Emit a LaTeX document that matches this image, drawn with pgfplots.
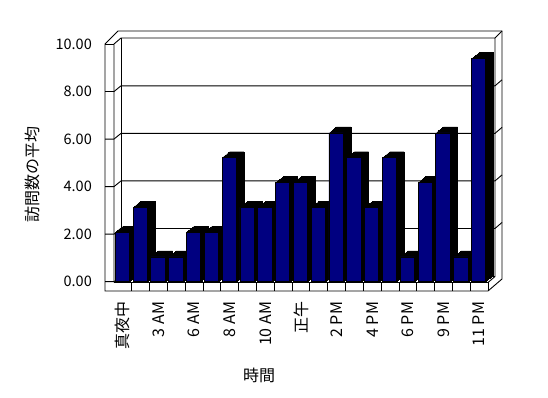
\documentclass[border=0pt]{standalone}
\usepackage{fontspec}
\setmainfont{Noto Sans CJK JP}
\usepackage{pgfplots}
\pgfplotsset{compat=1.18}
\usepackage{pgfplotstable}
\definecolor{barnavy}{RGB}{0,0,128}
\pgfplotstableread{
x y
0 2
1 3
2 1
3 1
4 2
5 2
6 5
7 3
8 3
9 4
10 4
11 3
12 6
13 5
14 3
15 5
16 1
17 4
18 6
19 1
20 9
}\visits
\newcommand{\lblfont}{\fontsize{16bp}{18bp}\selectfont}
\newcommand{\numfont}{\fontsize{14.5bp}{17bp}\selectfont}
\begin{document}
\begin{tikzpicture}
\useasboundingbox (0,0) rectangle (548bp,398bp);
% walls and floor (image pixel coordinates)
\begin{scope}[x=1bp,y=-1bp,yshift=398bp,line width=0.9bp,line join=miter]
  \draw (105,291)--(105,44)--(118,31)--(502,31)--(502,279)--(488,291)--cycle;
  \draw (114,282.5)--(114,44)--(121,38)--(495,38)--(495,276.5)--(488,282.5);
  \draw (105,44)--(114,44);
  \draw (495,38)--(502,31);
  \draw (121,38)--(121,276)--(495,276);
  \draw (114,282.5)--(488,282.5)--(488,291);
  \foreach \v in {2,4,6,8}
    \draw (121,{276-23.77*\v}) -- (495,{276-23.77*\v}) -- (502,{270-23.77*\v});
  \foreach \v in {0,2,4,6,8}
    \draw (105,{281.7-23.77*\v}) -- (114,{281.7-23.77*\v}) -- (121,{276-23.77*\v});
  \foreach \k in {1,...,20}
    \draw ({114+17.81*\k},282.5) -- ({114+17.81*\k},291);
\end{scope}
\begin{axis}[
  at={(114bp,116.3bp)}, anchor=south west, scale only axis,
  width=374bp, height=237.7bp,
  xmin=-0.5, xmax=20.5, ymin=0, ymax=10,
  axis line style={draw=none}, major tick length=0pt,
  clip=false,
  xtick={0,2,...,20},
  xticklabels={真夜中,3 AM,6 AM,8 AM,10 AM,正午,2 PM,4 PM,6 PM,9 PM,11 PM},
  ytick={0,2,...,10},
  xticklabel style={rotate=90, anchor=east, inner sep=0pt, font=\lblfont},
  xticklabel shift=20bp,
  yticklabel style={anchor=east, inner sep=0pt, font=\numfont,
    /pgf/number format/.cd, fixed, fixed zerofill, precision=2, assume math mode=true},
  yticklabel shift=22bp,
]
\pgfplotsinvokeforeach{1,...,8}{
  \addplot[ybar, bar width=14.3bp, bar shift=-0.5bp, fill=black, draw=black, line width=0.4bp,
    xshift=#1*0.9375bp, yshift=#1*0.75bp, y filter/.expression={y*1.0433}, forget plot]
    table[x=x,y=y]{\visits};
}
\addplot[ybar, bar width=14.3bp, bar shift=-0.5bp, fill=barnavy, draw=black, line width=0.8bp,
  y filter/.expression={y*1.0433}]
  table[x=x,y=y]{\visits};
\end{axis}
\node[rotate=90, font=\lblfont] at (32bp,223bp) {訪問数の平均};
\node[font=\lblfont] at (259bp,23bp) {時間};
\end{tikzpicture}
\end{document}
